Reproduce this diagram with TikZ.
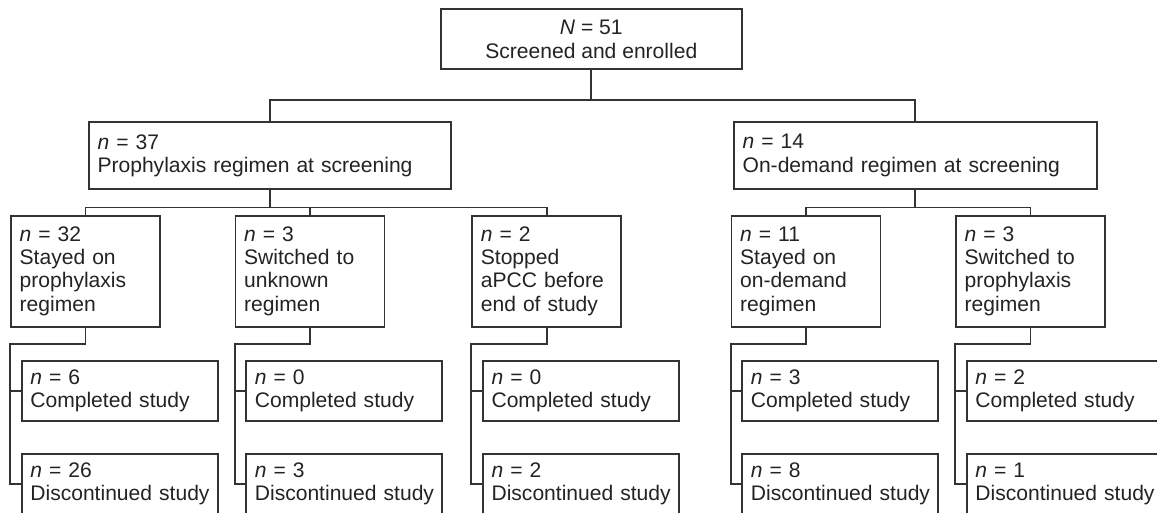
\documentclass[tikz,border=0pt]{standalone}
\usepackage{fontspec}
\setsansfont{Liberation Sans}
\definecolor{chartLine}{RGB}{51,51,51}
\definecolor{chartText}{RGB}{35,35,35}

\begin{document}
\begin{tikzpicture}[x=0.75pt, y=-0.75pt,
    font=\sffamily\fontsize{15.8pt}{17.4pt}\selectfont, text=chartText,
    box/.style={draw=chartLine, line width=1.3pt, inner xsep=6.5pt, inner ysep=0pt, align=left},
    arm/.style={box, text width=98.75pt, minimum height=83.25pt},
    leaf/.style={box, text width=134pt, minimum height=44.8pt},
    link/.style={draw=chartLine, line width=1.3pt}]

\clip (0,0) rectangle (1157,513);

% Screening and first split
\node (top) at (591.3,39.3) [box, align=center, minimum width=225.5pt, minimum height=45pt] {\textit{N} = 51\\Screened and enrolled};
\node (pro) at (270,155.5) [box, text width=258.7pt, minimum height=50pt] {\textit{n} = 37\\Prophylaxis regimen at screening};
\node (ond) at (915.3,155.5) [box, text width=259pt, minimum height=50pt] {\textit{n} = 14\\On-demand regimen at screening};

\draw [link] (top.south) -- ++(0,29.7) -| (pro.north);
\draw [link] (top.south) ++(0,29.7) -| (ond.north);

% Regimen during study
\node (arm1) at (85.5,271.2) [arm] {\textit{n} = 32\\Stayed on\\prophylaxis\\regimen};
\node (arm2) at (310,271.2) [arm] {\textit{n} = 3\\Switched to\\unknown\\regimen};
\node (arm3) at (546.7,271.2) [arm] {\textit{n} = 2\\Stopped\\aPCC before\\end of study};
\node (arm4) at (806,271.2) [arm] {\textit{n} = 11\\Stayed on\\on-demand\\regimen};
\node (arm5) at (1030.5,271.2) [arm] {\textit{n} = 3\\Switched to\\prophylaxis\\regimen};

\foreach \c in {arm1,arm2,arm3} {
    \draw [link] (pro.south) -- ++(0,17.9) -| (\c.north);
}
\foreach \c in {arm4,arm5} {
    \draw [link] (ond.south) -- ++(0,17.9) -| (\c.north);
}

% Study outcome
\foreach \i/\x/\cmp/\dis in {1/85.5/6/26, 2/310/0/3, 3/546.7/0/2, 4/806/3/8, 5/1030.5/2/1} {
    \node (done\i) at (\x+34.2,390.85) [leaf] {\textit{n} = \cmp\\Completed~study};
    \node (quit\i) at (\x+34.2,484.15) [leaf] {\textit{n} = \dis\\Discontinued~study};
    \draw [link] (arm\i.south) -- ++(0,16.6) -| (arm\i.south west |- quit\i.west) -- (quit\i.west);
    \draw [link] (arm\i.south west |- done\i.west) -- (done\i.west);
}

\end{tikzpicture}
\end{document}
